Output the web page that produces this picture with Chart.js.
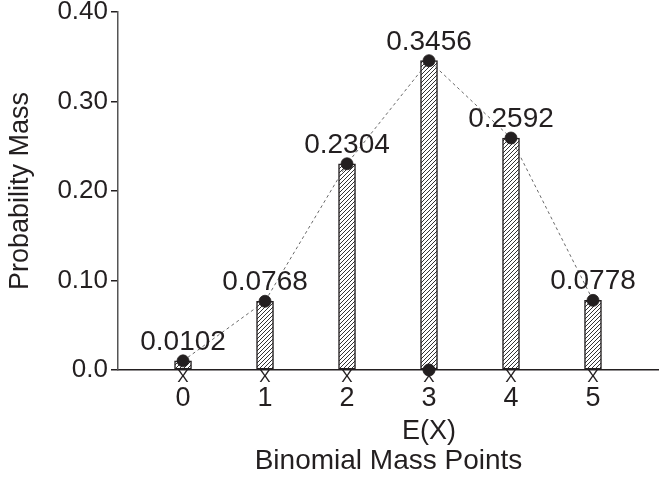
<!DOCTYPE html>
<html>
<head>
<meta charset="utf-8">
<script src="https://cdn.jsdelivr.net/npm/chart.js@4"></script>
<style>
  html, body { margin: 0; padding: 0; background: #fff; overflow: hidden; }
  #wrap { width: 666px; height: 478px; }
</style>
</head>
<body>
<div id="wrap"><canvas id="massChart"></canvas></div>
<script>
// Binomial mass points and their probabilities
let massPoints = [0, 1, 2, 3, 4, 5];
let massValues = [0.0102, 0.0768, 0.2304, 0.3456, 0.2592, 0.0778];
let massLabels = ["0.0102", "0.0768", "0.2304", "0.3456", "0.2592", "0.0778"];
let expectedValue = 3;
let yTicks = [0, 0.1, 0.2, 0.3, 0.4];
let yTickLabels = ["0.0", "0.10", "0.20", "0.30", "0.40"];

const FONT = "'Liberation Sans', Arial, Helvetica, sans-serif";
const INK = "#231f20";

// diagonal hatch for the bars
function hatchPattern() {
  const c = document.createElement("canvas");
  c.width = 4;
  c.height = 4;
  const g = c.getContext("2d");
  g.fillStyle = "#fff";
  g.fillRect(0, 0, 4, 4);
  g.strokeStyle = "#333";
  g.lineWidth = 1;
  g.beginPath();
  g.moveTo(0, 4); g.lineTo(4, 0);
  g.moveTo(-1, 1); g.lineTo(1, -1);
  g.moveTo(3, 5); g.lineTo(5, 3);
  g.stroke();
  return g.createPattern(c, "repeat");
}

// X marks under each point, value labels, E(X) text
const annotate = {
  id: "annotate",
  beforeDatasetsDraw(chart) {
    const ctx = chart.ctx;
    const x = chart.scales.x, y = chart.scales.y;
    ctx.save();
    ctx.fillStyle = INK;
    ctx.font = "17px " + FONT;
    ctx.textAlign = "center";
    ctx.textBaseline = "middle";
    massPoints.forEach(p => ctx.fillText("X", x.getPixelForValue(p), y.getPixelForValue(0) + 7));
    ctx.restore();
  },
  afterDatasetsDraw(chart) {
    const ctx = chart.ctx;
    const x = chart.scales.x, y = chart.scales.y;
    ctx.save();
    ctx.fillStyle = INK;
    ctx.textAlign = "center";
    ctx.textBaseline = "alphabetic";
    ctx.font = "28px " + FONT;
    massPoints.forEach((p, i) => {
      ctx.fillText(massLabels[i], x.getPixelForValue(p), y.getPixelForValue(massValues[i]) - 11);
    });
    ctx.font = "27px " + FONT;
    ctx.fillText("E(X)", x.getPixelForValue(expectedValue), 439);
    ctx.restore();
  }
};

const ctx = document.getElementById("massChart");
const massChart = new Chart(ctx, {
  type: "bar",
  data: {
    datasets: [
      {
        type: "scatter",
        data: [{ x: expectedValue, y: 0 }],
        pointRadius: 6,
        pointBackgroundColor: INK,
        pointBorderColor: INK,
        clip: false,
        order: 0
      },
      {
        type: "line",
        data: massPoints.map((p, i) => ({ x: p, y: massValues[i] })),
        borderColor: "#444",
        borderWidth: 0.8,
        borderDash: [3, 3],
        pointRadius: 6,
        pointBackgroundColor: INK,
        pointBorderColor: INK,
        clip: false,
        order: 1
      },
      {
        type: "bar",
        data: massPoints.map((p, i) => ({ x: p, y: massValues[i] })),
        backgroundColor: hatchPattern(),
        borderColor: INK,
        borderWidth: 1.5,
        borderSkipped: false,
        barThickness: 17,
        order: 2
      }
    ]
  },
  options: {
    responsive: true,
    maintainAspectRatio: false,
    animation: false,
    layout: { padding: { top: 12, right: 0, left: 0, bottom: 0 } },
    plugins: {
      legend: { display: false },
      tooltip: { enabled: false }
    },
    scales: {
      x: {
        type: "linear",
        offset: false,
        min: -0.793,
        max: 5.805,
        afterBuildTicks: (s) => { s.ticks = massPoints.map(v => ({ value: v })); },
        afterFit: (s) => { s.height = 108; s.paddingLeft = 0; s.paddingRight = 0; },
        grid: { display: false },
        border: { display: true, color: INK, width: 1.5 },
        ticks: {
          color: INK,
          font: { family: FONT, size: 27 },
          padding: 4,
          callback: (v) => String(v)
        },
        title: {
          display: true,
          text: "Binomial Mass Points",
          color: INK,
          font: { family: FONT, size: 28 },
          padding: { top: 50, bottom: 0 }
        }
      },
      y: {
        min: 0,
        max: 0.4,
        afterBuildTicks: (s) => { s.ticks = yTicks.map(v => ({ value: v })); },
        afterFit: (s) => { s.width = 118; s.paddingTop = 0; s.paddingBottom = 0; },
        grid: { display: true, drawOnChartArea: false, drawTicks: true, tickLength: 7, color: INK, lineWidth: 1.5 },
        border: { display: true, color: "#555", width: 1.5 },
        ticks: {
          color: INK,
          font: { family: FONT, size: 26 },
          padding: 3,
          callback: (v, i) => yTickLabels[i]
        },
        title: {
          display: true,
          text: "Probability Mass",
          color: INK,
          font: { family: FONT, size: 27 },
          padding: { top: 4, bottom: 0 }
        }
      }
    }
  },
  plugins: [annotate]
});
</script>
</body>
</html>
